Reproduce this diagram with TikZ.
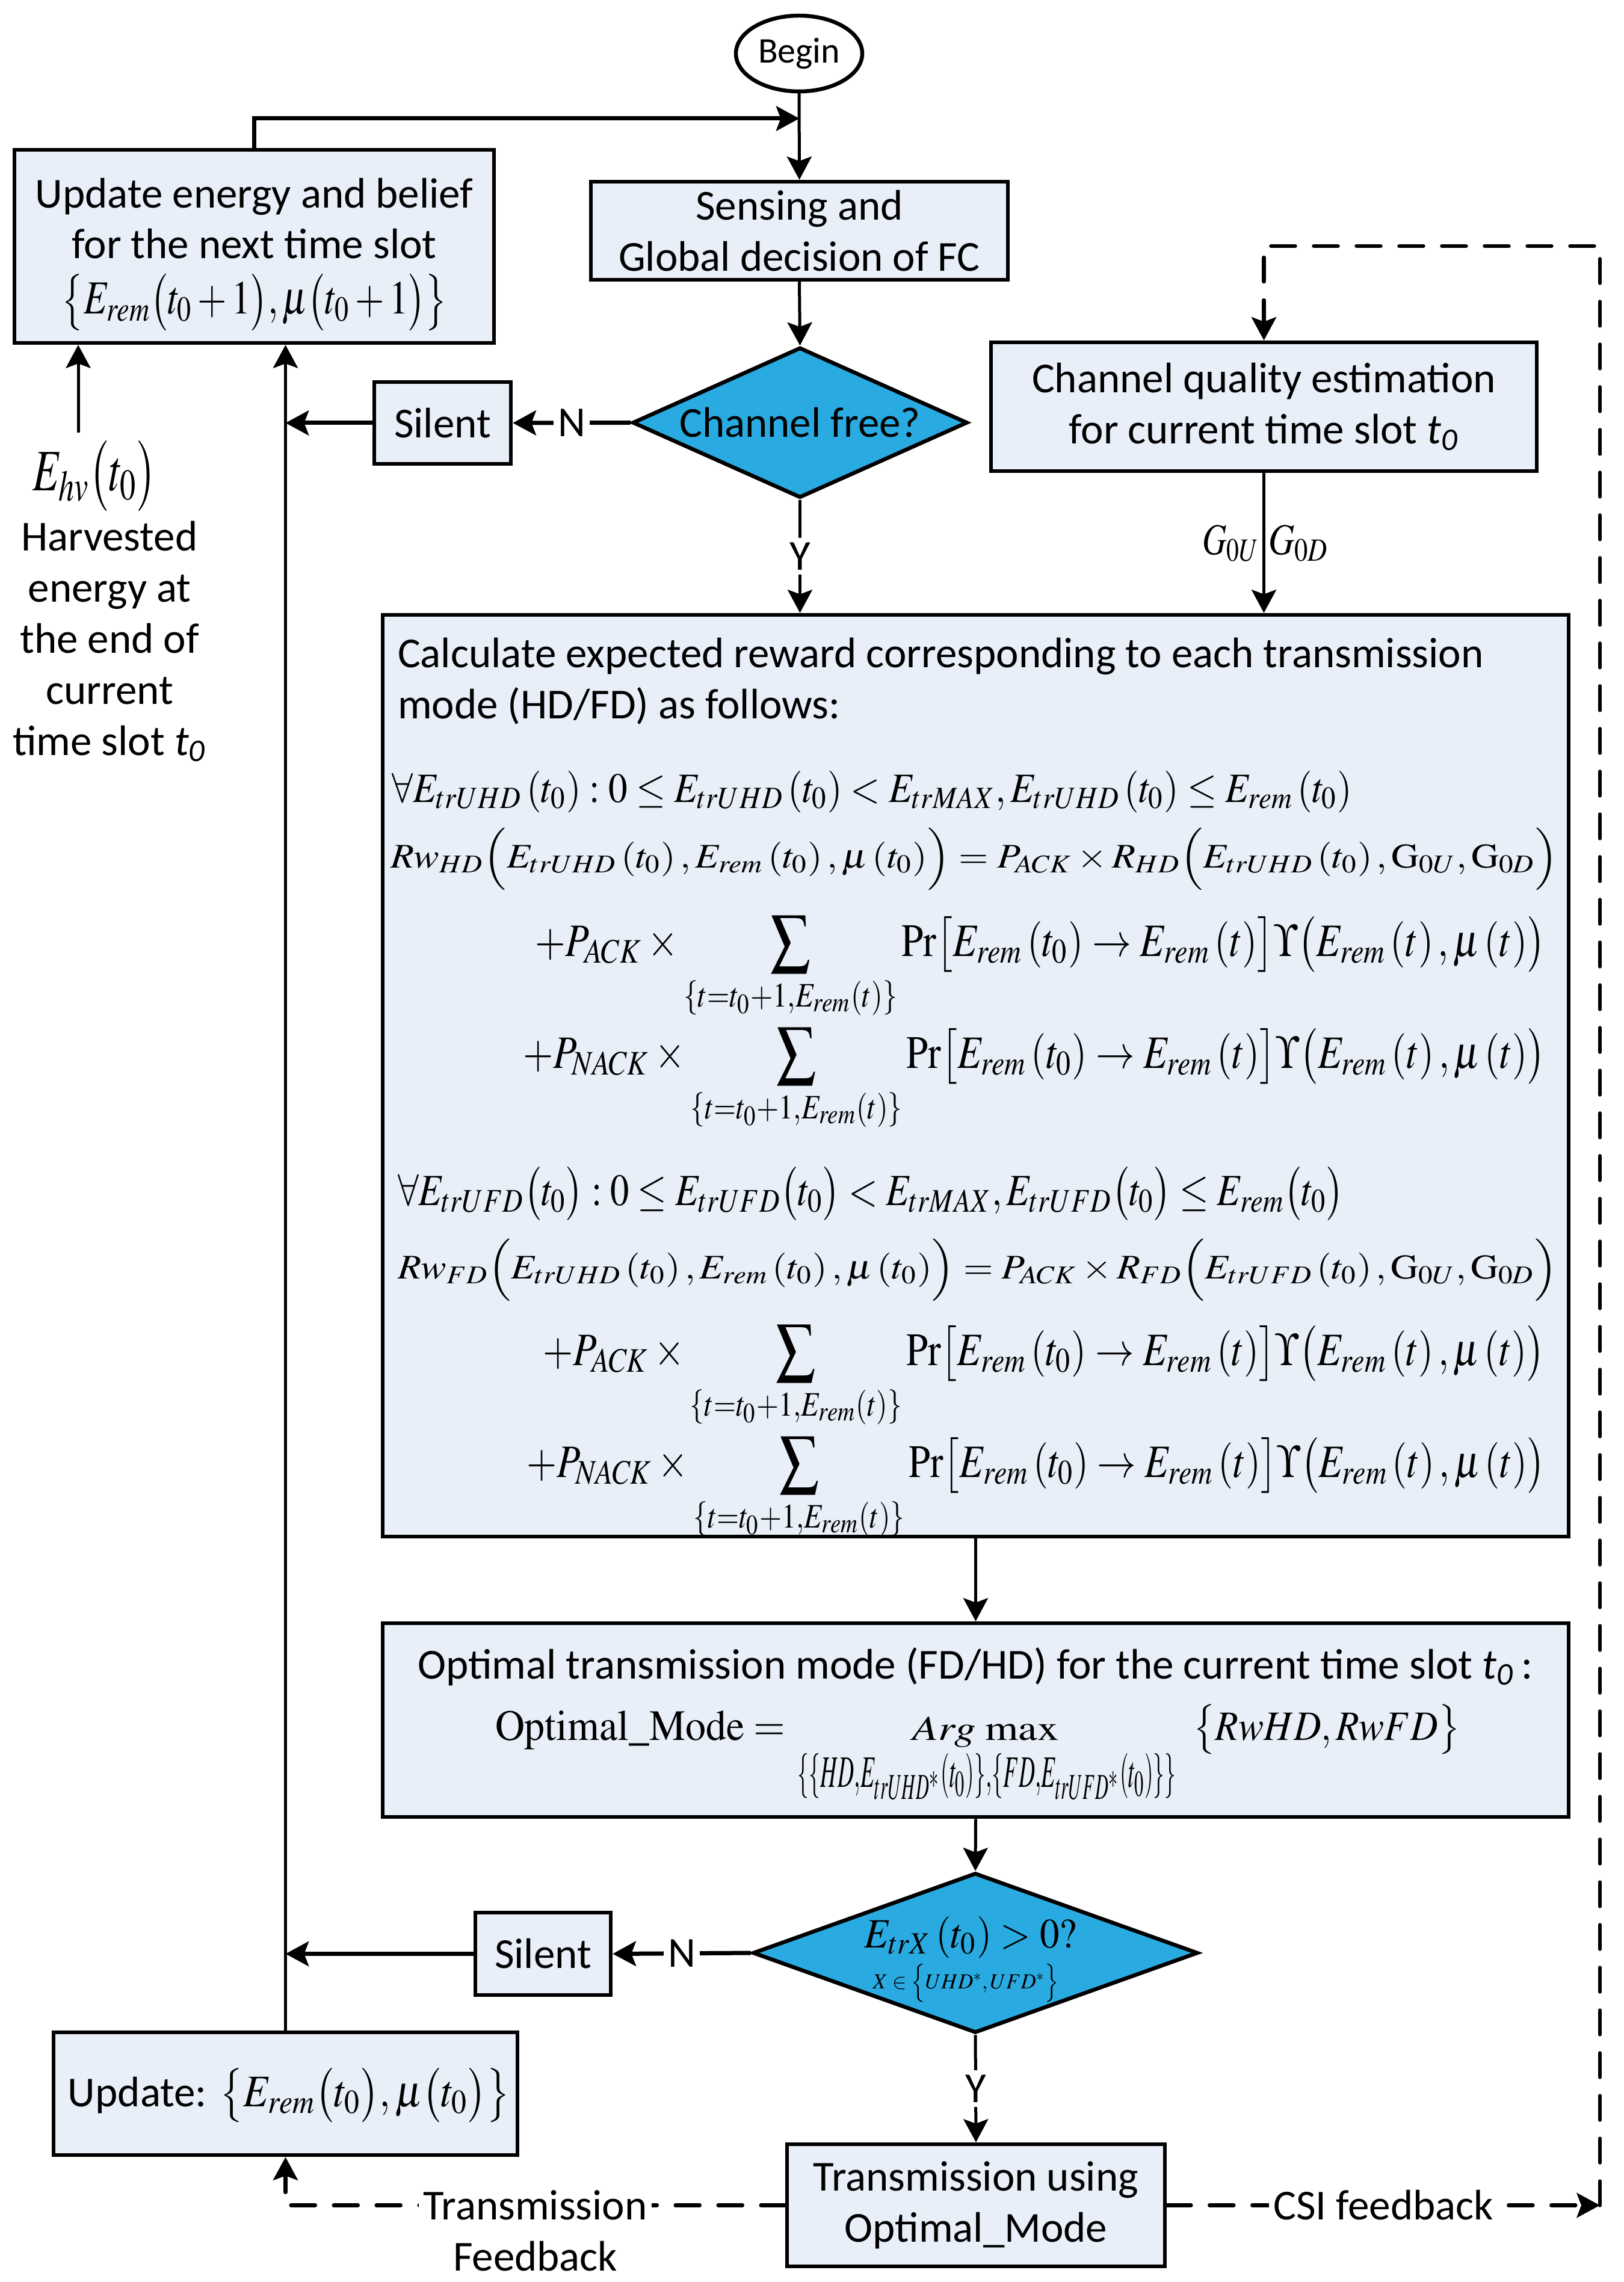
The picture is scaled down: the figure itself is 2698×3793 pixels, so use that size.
\documentclass[tikz,border=0pt]{standalone}
\usepackage{mathptmx}
\usepackage[no-math]{fontspec}
\setmainfont{Carlito}
\usepackage{graphicx}
\usetikzlibrary{shapes.geometric,arrows.meta}
\definecolor{boxfill}{RGB}{232,239,249}
\definecolor{diafill}{RGB}{41,171,226}
\newcommand{\msz}{\fontsize{14.2}{17}\selectfont}
\newcommand{\sumsub}{\left\{t=t_0+1,E_{rem}\left(t\right)\right\}}
\begin{document}
\begin{tikzpicture}[x=0.2pt,y=-0.2pt,
  every node/.style={font=\msz},
  box/.style={draw,line width=1.3pt,fill=boxfill,inner sep=0pt,align=center},
  dia/.style={diamond,draw,line width=1.3pt,fill=diafill,inner sep=0pt,aspect=2},
  tipS/.style={-{Stealth[length=7.7pt,width=8.2pt,inset=1.5pt]}},
  arr/.style={line width=1pt,tipS},
  arrT/.style={line width=1.4pt,tipS},
  dsh/.style={line width=1.3pt,line cap=round,dash pattern=on 8pt off 6.2pt,tipS},
  lbl/.style={fill=white,inner sep=1.5pt},
  fnode/.style={anchor=base west,inner sep=0pt},
  mnode/.style={anchor=base,inner sep=0pt}]
\useasboundingbox (0,0) rectangle (2698,3793);

% ---- boxes ----
\node[ellipse,draw,line width=1.3pt,fill=white,minimum width=42pt,minimum height=25.2pt,inner sep=0pt,font=\fontsize{12}{14}\selectfont] (begin) at (1328,89) {Begin};
\node[box,minimum width=138.6pt,minimum height=32.6pt] (sense) at (1328.5,383.5) {Sensing and\\Global decision of FC};
\node[box,minimum width=159.4pt,minimum height=64.2pt] (upd1) at (422.5,409.5) {};
\node[dia,minimum width=111.4pt,minimum height=47.8pt] (dia1) at (1329.5,702.5) {Channel free?};
\node[box,minimum width=45.4pt,minimum height=27.2pt] (sil1) at (735.5,703) {Silent};
\node[box,minimum width=181.4pt,minimum height=42.8pt] (chq) at (2100.5,676) {Channel quality estimation\\for current time slot \textit{t\textsubscript{0}}};
\node[box,minimum width=394.2pt,minimum height=306.4pt] (calc) at (1621.5,1788) {};
\node[box,minimum width=394.2pt,minimum height=64.4pt] (opt) at (1621.5,2859) {};
\node[dia,minimum width=148pt,minimum height=53.2pt] (dia2) at (1621,3246) {};
\node[box,minimum width=45pt,minimum height=27.4pt] (sil2) at (902.5,3247.5) {Silent};
\node[box,minimum width=154.2pt,minimum height=40.8pt] (upd2) at (474.5,3480) {};
\node[box,minimum width=125.6pt,minimum height=40.6pt] (trans) at (1622,3665.5) {Transmission using\\Optimal\_Mode};

% update box 1 contents
\node[mnode] (u1a) at (422.5,346) {Update energy and belief};
\node[mnode] (u1b) at (422.5,430) {for the next time slot};
\node[mnode] (u1c) at (423,522) {\resizebox{128pt}{13.4pt}{$\bigl\{E_{rem}\bigl(t_0+1\bigr),\mu\bigl(t_0+1\bigr)\bigr\}$}};

% update box 2 contents
\node[fnode] (u2) at (112,3501) {Update: \resizebox{96.4pt}{12.8pt}{$\bigl\{E_{rem}\bigl(t_0\bigr),\mu\bigl(t_0\bigr)\bigr\}$}};

% harvested energy
\node[mnode] (ehv) at (157,816) {\resizebox{41.2pt}{16.6pt}{$E_{hv}\bigl(t_0\bigr)$}};
\node[inner sep=0pt,align=center] (harv) at (182,1066) {Harvested\\energy at\\the end of\\current\\time slot \textit{t\textsubscript{0}}};

% calc box contents
\node[anchor=west,align=left,inner sep=0pt] (ctext) at (660,1132) {Calculate expected reward corresponding to each transmission\\mode (HD/FD) as follows:};
\node[fnode] (f1) at (650,1333) {\resizebox{319.2pt}{10.4pt}{$\displaystyle \forall E_{trUHD}\left(t_0\right):0\le E_{trUHD}\left(t_0\right)<E_{trMAX},E_{trUHD}\left(t_0\right)\le E_{rem}\left(t_0\right)$}};
\node[fnode] (f2) at (648,1442) {\resizebox{388pt}{13.2pt}{$\displaystyle Rw_{HD}\Bigl(E_{trUHD}\left(t_0\right),E_{rem}\left(t_0\right),\mu\left(t_0\right)\Bigr)=P_{ACK}\times R_{HD}\Bigl(E_{trUHD}\left(t_0\right),\mathrm{G}_{0U},\mathrm{G}_{0D}\Bigr)$}};
\node[fnode] (f3) at (888,1589) {\resizebox{335.8pt}{13.4pt}{$\displaystyle +P_{ACK}\times\sum\limits_{\sumsub}\Pr\bigl[E_{rem}\left(t_0\right)\to E_{rem}\left(t\right)\bigr]\Upsilon\bigl(E_{rem}\left(t\right),\mu\left(t\right)\bigr)$}};
\node[fnode] (f4) at (868,1775) {\resizebox{339.8pt}{13.4pt}{$\displaystyle +P_{NACK}\times\sum\limits_{\sumsub}\Pr\bigl[E_{rem}\left(t_0\right)\to E_{rem}\left(t\right)\bigr]\Upsilon\bigl(E_{rem}\left(t\right),\mu\left(t\right)\bigr)$}};
\node[fnode] (f5) at (660,2003) {\resizebox{314.4pt}{12.6pt}{$\displaystyle \forall E_{trUFD}\bigl(t_0\bigr):0\le E_{trUFD}\bigl(t_0\bigr)<E_{trMAX},E_{trUFD}\bigl(t_0\bigr)\le E_{rem}\bigl(t_0\bigr)$}};
\node[fnode] (f6) at (660,2125) {\resizebox{385.4pt}{13.2pt}{$\displaystyle Rw_{FD}\Bigl(E_{trUHD}\left(t_0\right),E_{rem}\left(t_0\right),\mu\left(t_0\right)\Bigr)=P_{ACK}\times R_{FD}\Bigl(E_{trUFD}\left(t_0\right),\mathrm{G}_{0U},\mathrm{G}_{0D}\Bigr)$}};
\node[fnode] (f7) at (901,2269) {\resizebox{333pt}{13.4pt}{$\displaystyle +P_{ACK}\times\sum\limits_{\sumsub}\Pr\bigl[E_{rem}\left(t_0\right)\to E_{rem}\left(t\right)\bigr]\Upsilon\bigl(E_{rem}\left(t\right),\mu\left(t\right)\bigr)$}};
\node[fnode] (f8) at (874,2455) {\resizebox{338.6pt}{13.4pt}{$\displaystyle +P_{NACK}\times\sum\limits_{\sumsub}\Pr\bigl[E_{rem}\left(t_0\right)\to E_{rem}\left(t\right)\bigr]\Upsilon\bigl(E_{rem}\left(t\right),\mu\left(t\right)\bigr)$}};

% optimal box contents
\node[inner sep=0pt] (optt) at (1621,2770) {Optimal transmission mode (FD/HD) for the current time slot \textit{t\textsubscript{0}}\,:};
\node[fnode] (om1) at (822,2892) {\resizebox{96.4pt}{9.8pt}{$\mathrm{Optimal\_Mode}=$}};
\node[fnode] (om2) at (1515,2892) {\resizebox{48.8pt}{7.8pt}{$Arg\;\mathrm{max}$}};
\node[inner sep=0pt] (om3) at (1640,2953) {\resizebox*{125.8pt}{15.4pt}{$\scriptstyle \left\{\left\{HD,E_{trUHD^{*}}\left(t_0\right)\right\},\left\{FD,E_{trUFD^{*}}\left(t_0\right)\right\}\right\}$}};
\node[fnode] (om4) at (1982,2892) {\resizebox{88.8pt}{11.8pt}{$\bigl\{RwHD,RwFD\bigr\}$}};

% diamond 2 contents
\node[mnode] (d2a) at (1613,3237) {\resizebox{70.6pt}{10.4pt}{$E_{trX}\left(t_0\right)>0?$}};
\node[mnode] (d2b) at (1605,3305) {\resizebox{61.8pt}{8.2pt}{$X\in\Bigl\{UHD^{*},UFD^{*}\Bigr\}$}};

% ---- coordinates ----
\coordinate (loop) at (1328.5,197);
\coordinate (hv) at (130,719);
\coordinate (csi) at (2659,3665.5);
\coordinate (tr) at (2659,409);
\coordinate (tl) at (2100.5,409);

% ---- connectors ----
\draw[arr] (begin.south) -- (sense.north);
\draw[arrT] (upd1.north) |- (loop);
\draw[arr] (sense.south) -- (dia1.north);
\draw[arr] (dia1.south) -- node[lbl]{Y} (dia1.south |- calc.north);
\draw[arrT] (dia1.west) -- node[lbl]{N} (sil1.east);
\draw[arrT] (sil1.west) -- (sil1.west -| upd2.north);
\draw[arr] (upd2.north) -- (upd2.north |- upd1.south);
\draw[arr] (hv) -- (hv |- upd1.south);
\draw[arr] (chq.south) -- node[pos=0.5,left,inner sep=1pt]{\resizebox{19pt}{9.8pt}{$G_{0U}$}} node[pos=0.5,right,inner sep=1pt]{\resizebox{20pt}{9.8pt}{$G_{0D}$}} (chq.south |- calc.north);
\draw[arr] (calc.south) -- (opt.north);
\draw[arr] (opt.south) -- (dia2.north);
\draw[arr] (dia2.south) -- node[lbl]{Y} (trans.north);
\draw[arrT] (dia2.west) -- node[lbl]{N} (sil2.east);
\draw[arrT] (sil2.west) -- (sil2.west -| upd2.north);
\draw[dsh] (trans.east) -- node[lbl]{CSI feedback} (csi);
\draw[dsh] (csi) -- (tr) -- (tl) -- (chq.north);
\draw[dsh] (trans.west) -- node[lbl,align=center,yshift=-8.4pt]{Transmission\\Feedback} (trans.west -| upd2.south) -- (upd2.south);
\end{tikzpicture}
\end{document}
